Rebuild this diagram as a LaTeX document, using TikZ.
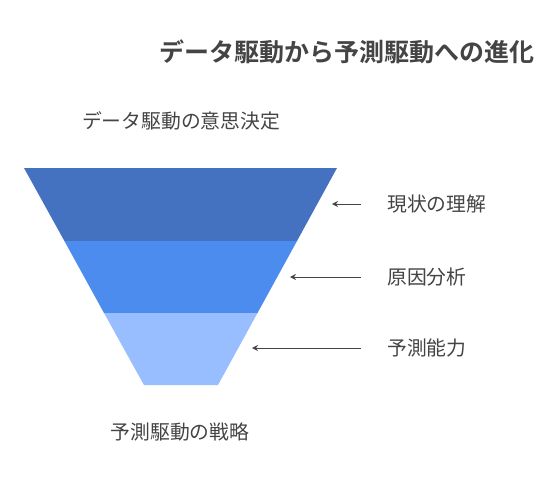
\documentclass[tikz,border=0pt]{standalone}
\usepackage{fontspec}
\newfontfamily\jpfont{Noto Sans CJK JP}
\newfontfamily\jpbold{Noto Sans CJK JP Bold}
\usetikzlibrary{arrows.meta}
\definecolor{bandA}{HTML}{4472C0}
\definecolor{bandB}{HTML}{4C8CEE}
\definecolor{bandC}{HTML}{98BEFF}
\definecolor{txt}{HTML}{444444}
\tikzset{
  lbl/.style={font=\jpfont\fontsize{19.8}{22}\selectfont, text=txt, inner sep=0pt},
  ttl/.style={font=\jpbold\fontsize{25}{28}\selectfont, text=txt, inner sep=0pt},
  pointer/.style={draw=txt, line width=1pt, -{Stealth[length=6pt,width=6pt]}},
}
\begin{document}
\begin{tikzpicture}[x=1pt,y=-1pt]
\useasboundingbox (0,0) rectangle (541,493);
% funnel bands
\fill[bandA] (24,168) -- (337,168) -- (297,241) -- (64.4,241) -- cycle;
\fill[bandB] (64.4,241) -- (297,241) -- (257.5,313) -- (104,313) -- cycle;
\fill[bandC] (104,313) -- (257.5,313) -- (218,385) -- (144,385) -- cycle;
% texts
\node[ttl, anchor=east] (title) at (535,52) {データ駆動から予測駆動への進化};
\node[lbl] (top) at (181,121) {データ駆動の意思決定};
\node[lbl] (bottom) at (180,432) {予測駆動の戦略};
\node[lbl, anchor=west] (l1) at (387,204) {現状の理解};
\node[lbl, anchor=west] (l2) at (387,277) {原因分析};
\node[lbl, anchor=west] (l3) at (387,348) {予測能力};
% arrows
\coordinate (t1) at (332,204);
\coordinate (t2) at (290,277);
\coordinate (t3) at (252,348);
\draw[pointer] (361,204) -- (t1);
\draw[pointer] (361,277) -- (t2);
\draw[pointer] (361,348) -- (t3);
\end{tikzpicture}
\end{document}
